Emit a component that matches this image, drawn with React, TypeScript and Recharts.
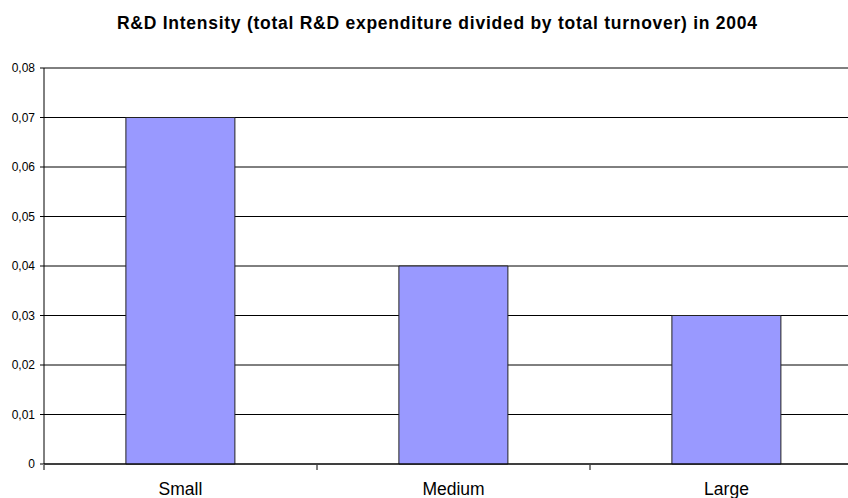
import React from "react";
import { BarChart, Bar, XAxis, YAxis, CartesianGrid } from "recharts";

const categories = ["Small", "Medium", "Large"];
const intensity = [0.07, 0.04, 0.03];
const yTicks = [0, 0.01, 0.02, 0.03, 0.04, 0.05, 0.06, 0.07, 0.08];
const edgeTicks = [0, 1, 2, 3];
const title = "R&D Intensity (total R&D expenditure divided by total turnover) in 2004";

const data = categories.map((c, i) => ({ category: c, value: intensity[i] }));

const fmt = (v: number) => (v === 0 ? "0" : v.toFixed(2).replace(".", ","));
const FONT = "'Liberation Sans', Arial, sans-serif";

const EmptyTick = () => <g />;

export default function App() {
  return (
    <div
      style={{
        position: "absolute",
        left: 0,
        top: 0,
        width: 848,
        height: 498,
        overflow: "hidden",
        background: "#fff",
        fontFamily: FONT,
      }}
    >
      <svg
        width={848}
        height={40}
        style={{ position: "absolute", left: 0, top: 0 }}
      >
        <text
          x={437}
          y={29}
          textAnchor="middle"
          fontFamily={FONT}
          fontWeight="bold"
          fontSize={17.5}
          fill="#000"
          textLength={640}
          lengthAdjust="spacing"
        >
          {title}
        </text>
      </svg>
      <BarChart
        width={880}
        height={498}
        data={data}
        margin={{ top: 68, right: 17, bottom: 0, left: 0 }}
        barCategoryGap="30%"
        style={{ position: "absolute", left: 0, top: 0 }}
      >
        <CartesianGrid vertical={false} stroke="#000" strokeWidth={1} />
        <XAxis
          dataKey="category"
          height={1}
          tickLine={false}
          tickSize={0}
          tickMargin={19}
          axisLine={{ stroke: "#000" }}
          tick={{ fill: "#000", fontSize: 17.5, fontFamily: FONT }}
        />
        <XAxis
          xAxisId="edges"
          type="number"
          dataKey={() => 0}
          domain={[0, 3]}
          ticks={edgeTicks}
          interval={0}
          height={33}
          tick={EmptyTick}
          tickSize={5}
          axisLine={false}
          tickLine={{ stroke: "#000" }}
          allowDataOverflow
        />
        <YAxis
          width={44}
          domain={[0, 0.08]}
          ticks={yTicks}
          tickFormatter={fmt}
          tickSize={4}
          tickMargin={5}
          axisLine={{ stroke: "#000" }}
          tickLine={{ stroke: "#000" }}
          tick={{ fill: "#000", fontSize: 12, fontFamily: FONT }}
        />
        <Bar
          dataKey="value"
          fill="#9999FF"
          stroke="#222"
          strokeWidth={1}
          isAnimationActive={false}
        />
      </BarChart>
    </div>
  );
}
